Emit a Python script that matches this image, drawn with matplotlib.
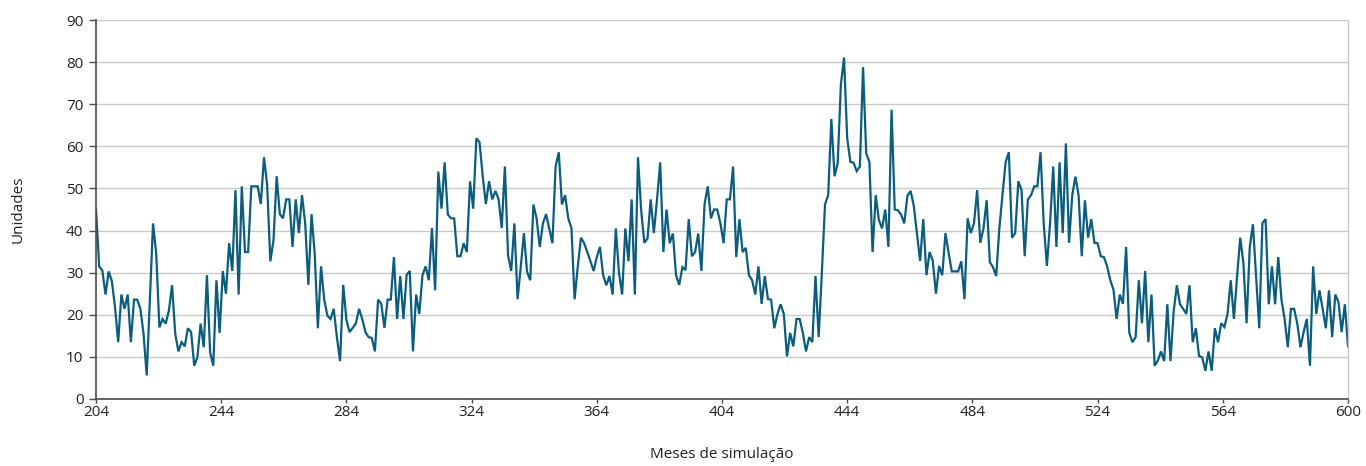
import numpy as np
import matplotlib
matplotlib.use("Agg")
import matplotlib.pyplot as plt

plt.rcParams['font.family'] = ['Open Sans', 'DejaVu Sans']

# Monthly simulated units, one value per month starting at month 204
start_month = 204
units = [
    45, 31.5, 30.5, 24.8, 30.3, 28, 21.8, 13.5, 24.8, 21.4,
    24.8, 13.5, 23.6, 23.6, 21.4, 15.5, 5.6, 23.5, 41.7, 34.5,
    17, 19, 17.9, 21, 27, 15.5, 11.3, 13.5, 12.5, 16.8,
    15.9, 7.9, 10, 17.9, 12.3, 29.4, 11.1, 7.9, 28.2, 15.7,
    30.4, 25, 37, 30.4, 49.6, 24.8, 50.5, 34.9, 34.9, 50.5,
    50.5, 50.5, 46.3, 57.4, 50.8, 32.7, 37.7, 52.9, 43.9, 42.9,
    47.4, 47.4, 36.1, 47.4, 39.4, 48.4, 41.7, 27.1, 43.9, 34.5,
    16.8, 31.5, 23.6, 19.8, 19, 21.4, 14.7, 9, 27.1, 18.8,
    15.9, 16.9, 18, 21.4, 19, 15.9, 14.7, 14.5, 11.3, 23.6,
    22.6, 16.9, 23.6, 23.6, 33.7, 19, 29.2, 19, 29.5, 30.4,
    11.3, 24.8, 20.2, 29.4, 31.5, 28.2, 40.6, 25.8, 54, 45.2,
    56.2, 43.8, 42.9, 42.9, 33.9, 33.9, 37, 34.9, 51.7, 45.2,
    61.9, 61, 52.9, 46.3, 51.7, 47.4, 49.4, 47.5, 40.6, 55.2,
    34.1, 30.4, 41.7, 23.7, 31.3, 39.4, 30.2, 28.2, 46.2, 42.9,
    36.1, 41.7, 43.9, 40.5, 37, 55.2, 58.6, 46.2, 48.4, 42.9,
    40.6, 23.7, 31.5, 38.3, 37, 34.9, 32.7, 30.4, 33.7, 36.1,
    29.4, 27, 29.2, 24.8, 40.5, 30, 24.8, 40.5, 32.7, 47.4,
    24.8, 57.4, 44.8, 37.1, 38.1, 47.4, 39.4, 47.4, 56.2, 34.9,
    45, 37, 39.3, 29.4, 27.1, 31.3, 30.6, 42.7, 33.9, 34.9,
    39.3, 30.4, 46.3, 50.5, 42.9, 45, 45, 41.7, 37, 47.4,
    47.4, 55.2, 33.7, 42.7, 34.9, 35.9, 29.4, 28.2, 24.8, 31.5,
    22.6, 29.2, 23.7, 23.6, 16.8, 20.2, 22.5, 20.2, 10.1, 15.7,
    12.5, 19, 19, 15.7, 11.3, 14.7, 13.5, 29.2, 14.7, 30,
    46.2, 48.4, 66.5, 52.9, 56, 74.6, 81.1, 61.9, 56.3, 56.1,
    54.1, 55.2, 78.8, 58.3, 56.3, 34.9, 48.4, 42.5, 40.5, 45,
    36.1, 68.7, 45, 44.8, 43.8, 41.7, 48.3, 49.4, 45.9, 39.3,
    32.8, 42.7, 29.4, 34.9, 32.8, 25, 31.6, 29.4, 39.4, 34.7,
    30.3, 30.3, 30.3, 32.7, 23.7, 42.9, 39.4, 41.7, 49.6, 37.1,
    40.5, 47.2, 32.5, 31.3, 29.2, 40.5, 48.6, 56.3, 58.6, 38.3,
    39.4, 51.7, 49.6, 33.9, 47.4, 48.4, 50.5, 50.5, 58.6, 41.7,
    31.6, 41.7, 55.2, 36.1, 56.2, 39.4, 60.7, 37.1, 48.4, 52.8,
    48.4, 33.9, 47.2, 38.3, 42.7, 37.1, 37, 33.9, 33.7, 31.5,
    28.2, 26, 19, 24.8, 22.6, 36.1, 15.7, 13.5, 14.7, 28.2,
    18, 30.4, 13.5, 24.8, 7.9, 9.1, 11.3, 9, 22.5, 9,
    20.8, 27, 22.5, 21.4, 20.2, 27, 13.5, 16.8, 10.2, 9.9,
    6.7, 11.3, 6.7, 16.8, 13.5, 18, 17.1, 20.2, 28.2, 19,
    29.1, 38.3, 32.3, 18, 36, 41.5, 29.1, 16.8, 41.8, 42.7,
    22.5, 31.5, 22.5, 33.7, 23.6, 19, 12.3, 21.4, 21.4, 17.9,
    12.3, 15.9, 19, 7.9, 31.5, 20.2, 25.8, 21.4, 16.8, 25.8,
    14.7, 24.8, 23, 15.9, 22.5, 12.5,
]
x_tick_labels = ["204", "244", "284", "324", "364", "404",
                 "444", "484", "524", "564", "600"]
y_ticks = [0, 10, 20, 30, 40, 50, 60, 70, 80, 90]

line_color = "#0b5d7e"
grid_color = "#c9c9c9"
axis_color = "#4a4a4a"
text_color = "#222222"

months = np.arange(start_month, start_month + len(units))

fig = plt.figure(figsize=(13.66, 4.66), dpi=100)
ax = fig.add_axes([96 / 1366, 67 / 466, (1348 - 96) / 1366, (399 - 20) / 466])

ax.plot(months, units, color=line_color, linewidth=1.6, solid_joinstyle="miter")

ax.set_xlim(months[0], months[-1])
ax.set_ylim(0, 90)
ax.set_yticks(y_ticks)
ax.set_xticks(np.linspace(months[0], months[-1], len(x_tick_labels)))
ax.set_xticklabels(x_tick_labels)

ax.yaxis.grid(True, color=grid_color, linewidth=1.0)
ax.set_axisbelow(True)

ax.spines["top"].set_visible(False)
ax.spines["right"].set_color(grid_color)
ax.spines["right"].set_linewidth(1.0)
for side in ["left", "bottom"]:
    ax.spines[side].set_color(axis_color)
    ax.spines[side].set_linewidth(1.2)

ax.tick_params(axis="both", colors=axis_color, labelcolor=text_color,
               labelsize=11, width=1.0, direction="out")
ax.tick_params(axis="y", length=5, pad=4)
ax.tick_params(axis="x", length=3, pad=1)

ax.set_xlabel("Meses de simulação", fontsize=11, color=text_color)
ax.set_ylabel("Unidades", fontsize=11, color=text_color)
ax.xaxis.set_label_coords(0.5, (399 - 455) / 379)
ax.yaxis.set_label_coords((18 - 96) / 1252, 0.5)
ax.xaxis.label.set_verticalalignment("center")
ax.yaxis.label.set_verticalalignment("center")

fig.savefig("out.png", dpi=100)
